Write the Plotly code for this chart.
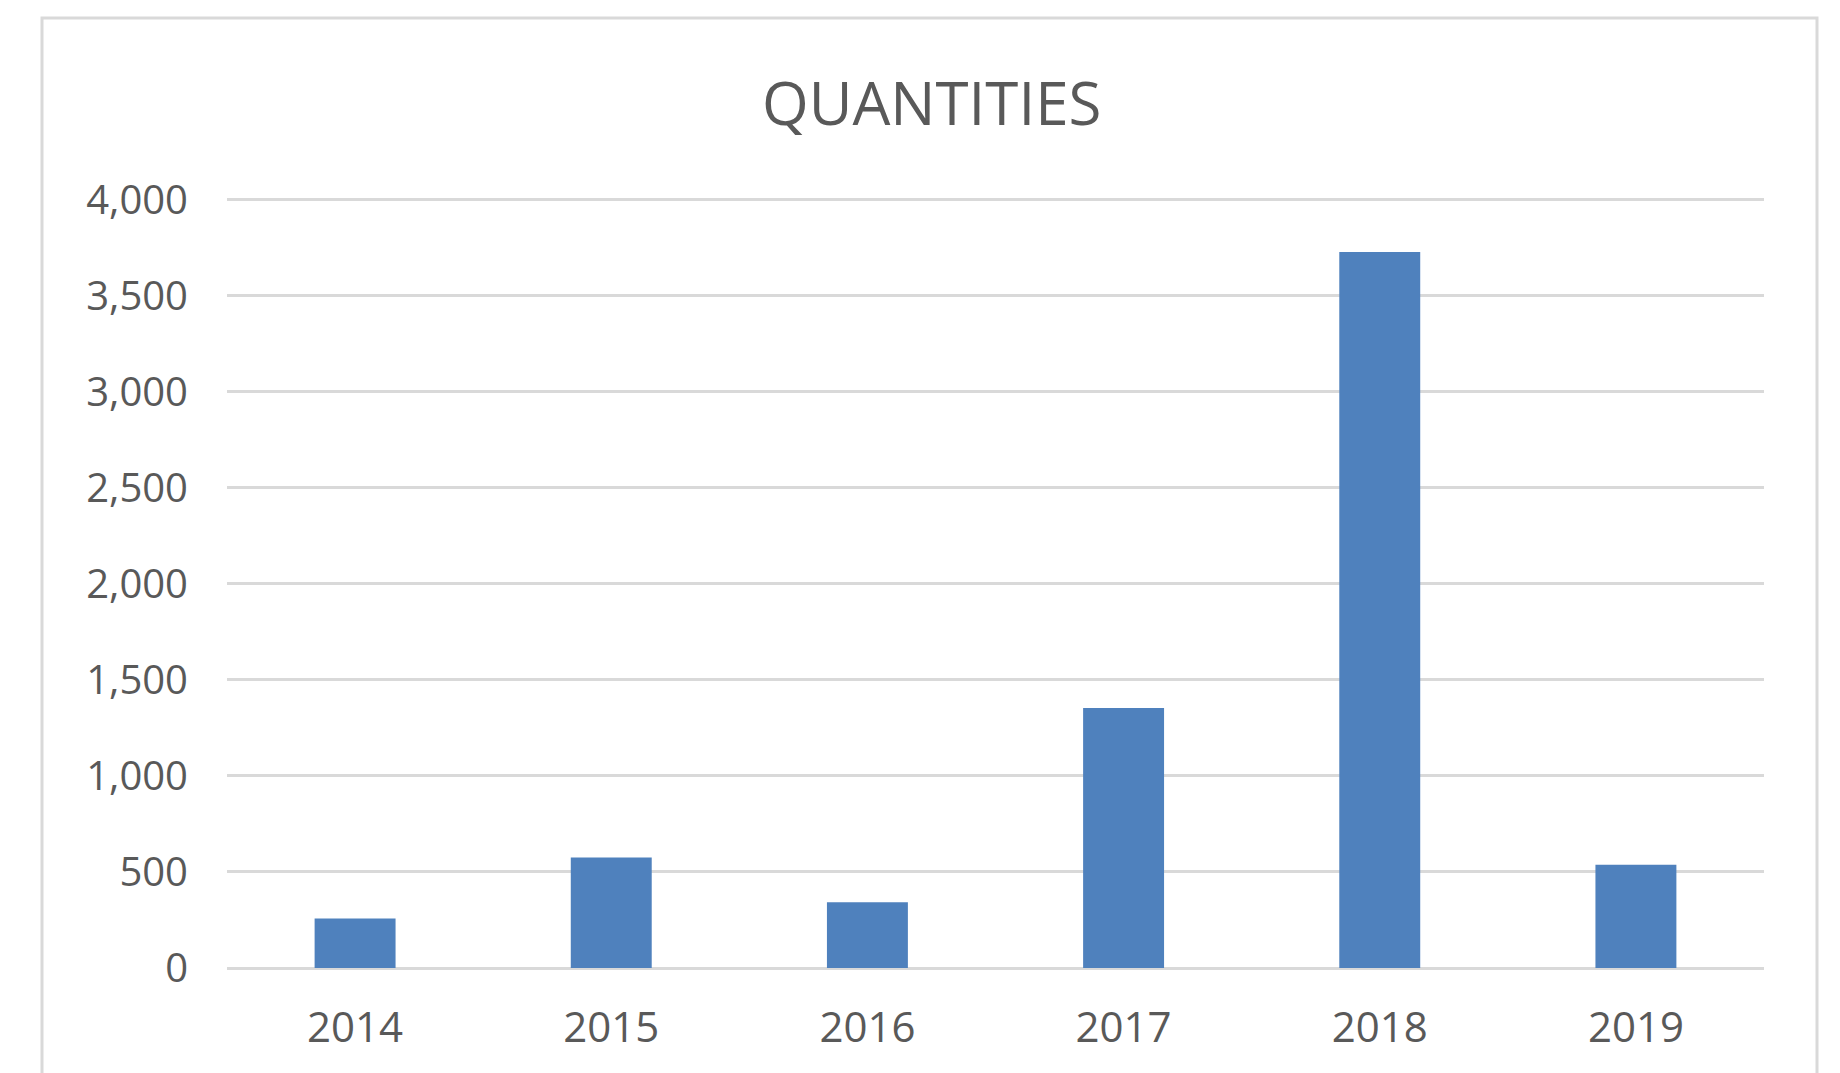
import plotly.graph_objects as go

years = ["2014", "2015", "2016", "2017", "2018", "2019"]
quantities = [258, 576, 342, 1354, 3728, 537]
y_ticks = [0, 500, 1000, 1500, 2000, 2500, 3000, 3500, 4000]
title_text = "QUANTITIES"

# page body has an 8px margin; work in page pixels minus that offset
OFF = 8
W, H = 1840 - OFF, 1073 - OFF
L, R, T, B = 227 - OFF, 1764 - OFF, 196 - OFF, 968 - OFF
pw, ph = R - L, B - T

def px_x(p):
    return (p - OFF - L) / pw

def px_y(p):
    return (B - (p - OFF)) / ph

fig = go.Figure(
    go.Bar(
        x=years,
        y=quantities,
        marker=dict(color="#4F81BD", line=dict(width=0)),
        width=0.316,
    )
)

grid = "#d9d9d9"
fig.update_layout(
    width=W,
    height=H,
    margin=dict(l=L, r=W - R, t=T, b=H - B),
    paper_bgcolor="white",
    plot_bgcolor="white",
    showlegend=False,
    font=dict(family="Open Sans", color="#595959"),
    xaxis=dict(
        showgrid=False,
        showline=False,
        zeroline=False,
        ticks="",
        tickfont=dict(size=42, color="#595959"),
        ticklabelstandoff=31,
    ),
    yaxis=dict(
        range=[0, 4020],
        tickvals=y_ticks,
        tickformat=",",
        showgrid=True,
        gridcolor=grid,
        gridwidth=3,
        zeroline=True,
        zerolinecolor=grid,
        zerolinewidth=3,
        showline=False,
        ticks="",
        tickfont=dict(size=40, color="#595959"),
        ticklabelstandoff=38,
    ),
    annotations=[
        dict(
            text=title_text,
            xref="paper",
            yref="paper",
            x=px_x(931),
            y=px_y(102),
            xanchor="center",
            yanchor="middle",
            showarrow=False,
            font=dict(size=60, color="#595959", family="Open Sans"),
        )
    ],
    shapes=[
        dict(
            type="rect",
            xref="paper",
            yref="paper",
            x0=px_x(42),
            x1=px_x(1817),
            y0=px_y(1100),
            y1=px_y(18),
            line=dict(color="#d9d9d9", width=3),
            layer="below",
        )
    ],
)

fig.write_html("out.html")
